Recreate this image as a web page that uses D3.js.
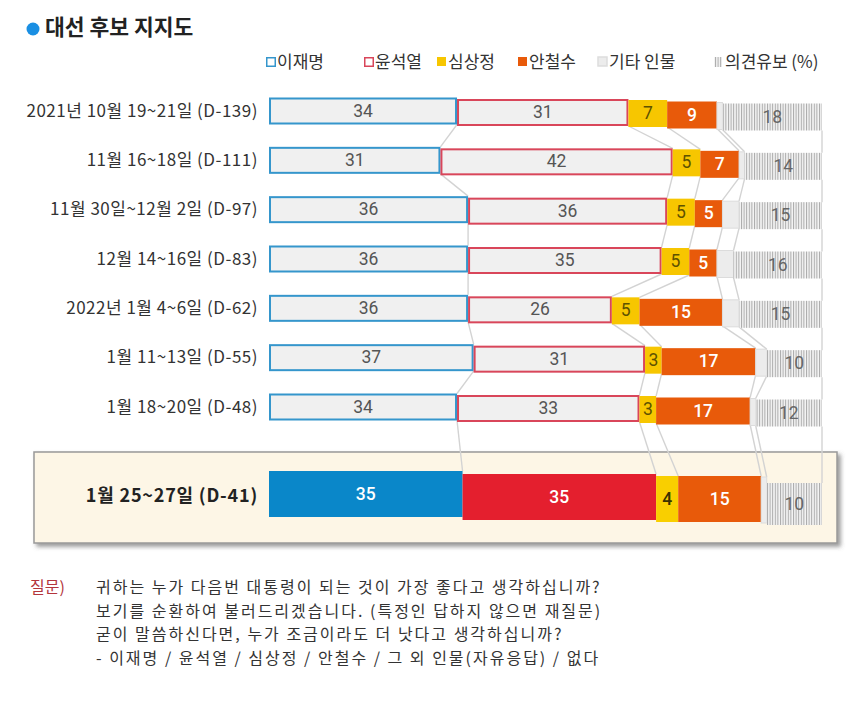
<!DOCTYPE html>
<html>
<head>
<meta charset="utf-8">
<script src="https://cdn.jsdelivr.net/npm/d3@7"></script>
<style>
  html, body { margin: 0; padding: 0; background: #fff; }
  svg { display: block; font-family: "Noto Sans CJK KR", "Noto Sans", sans-serif; }
</style>
</head>
<body>
<svg id="chart" width="863" height="703"></svg>
<script>
// ---- data ----
const surveys = [
  "2021년 10월 19~21일 (D-139)",
  "11월 16~18일 (D-111)",
  "11월 30일~12월 2일 (D-97)",
  "12월 14~16일 (D-83)",
  "2022년 1월 4~6일 (D-62)",
  "1월 11~13일 (D-55)",
  "1월 18~20일 (D-48)",
  "1월 25~27일 (D-41)"
];
const candidates = ["이재명", "윤석열", "심상정", "안철수", "기타 인물", "의견유보"];
const leeJaeMyung = [34, 31, 36, 36, 36, 37, 34, 35];
const yoonSukYeol = [31, 42, 36, 35, 26, 31, 33, 35];
const simSangJung = [7, 5, 5, 5, 5, 3, 3, 4];
const ahnCheolSoo = [9, 7, 5, 5, 15, 17, 17, 15];
const otherPeople = [1, 1, 3, 3, 3, 2, 1, 1];
const undecided = [18, 14, 15, 16, 15, 10, 12, 10];
const titleText = "대선 후보 지지도";
const legendSuffix = " (%)";
const questionLabel = "질문)";
const questionLines = [
  "귀하는 누가 다음번 대통령이 되는 것이 가장 좋다고 생각하십니까?",
  "보기를 순환하여 불러드리겠습니다. (특정인 답하지 않으면 재질문)",
  "굳이 말씀하신다면, 누가 조금이라도 더 낫다고 생각하십니까?",
  "- 이재명 / 윤석열 / 심상정 / 안철수 / 그 외 인물(자유응답) / 없다"
];

// ---- build ----
const series = [leeJaeMyung, yoonSukYeol, simSangJung, ahnCheolSoo, otherPeople, undecided];
const rows = surveys.map((s, i) => ({ label: s, values: series.map(a => a[i]) }));
const stack = d3.stack().keys(d3.range(series.length)).value((d, k) => d.values[k]);
const stacked = stack(rows); // [key][row] -> [y0,y1]

const svg = d3.select("#chart");
const defs = svg.append("defs");
const pat = defs.append("pattern").attr("id", "hatch").attr("patternUnits", "userSpaceOnUse")
  .attr("width", 2.6).attr("height", 10);
pat.append("rect").attr("width", 2.6).attr("height", 10).attr("fill", "#f4f4f4");
pat.append("rect").attr("x", 0).attr("width", 1).attr("height", 10).attr("fill", "#a9a9a9");

const filt = defs.append("filter").attr("id", "shadow").attr("x", "-5%").attr("y", "-10%").attr("width", "115%").attr("height", "130%");
filt.append("feDropShadow").attr("dx", 3).attr("dy", 3).attr("stdDeviation", 2).attr("flood-color", "#555").attr("flood-opacity", 0.6);

const x = d3.scaleLinear().domain([0, 100]).range([269, 822]);
const nUpper = surveys.length - 1;
const yCenter = d3.scaleLinear().domain([0, nUpper - 1]).range([111, 407]);
const lastCenter = 494;
const barH = 27, lastH = 46;
const stagger = [0, 1.5, 2.5, 4, 5, 6];
const lastStagger = [0, 3, 5, 5, 6, 8];

function segY(r, k) {
  if (r < nUpper) return { top: yCenter(r) - barH / 2 + stagger[k], h: barH };
  if (k === 5) return { top: lastCenter - lastH / 2 + lastStagger[k] + 4, h: lastH - 4 };
  return { top: lastCenter - lastH / 2 + lastStagger[k], h: lastH };
}

// Highlight box for last row
svg.append("rect").attr("x", 34).attr("y", 452).attr("width", 803).attr("height", 91)
  .attr("fill", "#fdf6e6").attr("stroke", "#999").attr("stroke-width", 1.5)
  .attr("filter", "url(#shadow)");

// Connectors
const connG = svg.append("g").attr("fill", "none").attr("stroke", "#d3d3d3").attr("stroke-width", 1.4);
for (let r = 0; r < rows.length - 1; r++) {
  for (let k = 0; k < series.length; k++) {
    const a = stacked[k][r][1], b = stacked[k][r + 1][1];
    const ya = segY(r, k), yb = segY(r + 1, k);
    connG.append("line")
      .attr("x1", x(a)).attr("y1", ya.top + ya.h)
      .attr("x2", x(b)).attr("y2", yb.top);
  }
}

const upperFill = ["#f0f0f0", "#f0f0f0", "#f7c600", "#e85a0a", "#ececec", "url(#hatch)"];
const upperStroke = ["#3596cc", "#d9465a", "none", "none", "#dcdcdc", "none"];
const lastFill = ["#0a87c9", "#e41f2e", "#f9cf00", "#e85a0a", "#ececec", "url(#hatch)"];
const textColor = ["#555", "#555", "#5e5200", "#fff", "#555", "#666"];
const lastTextColor = ["#fff", "#fff", "#3a3200", "#fff", "#555", "#666"];

const barsG = svg.append("g");
stacked.forEach((layer, k) => {
  layer.forEach((d, r) => {
    const isLast = r === rows.length - 1;
    const yy = segY(r, k);
    const x0 = x(d[0]), x1 = x(d[1]);
    const isOutline = !isLast && (k === 0 || k === 1);
    barsG.append("rect")
      .attr("x", x0 + (isOutline ? 1 : 0)).attr("y", yy.top + (isOutline ? 1 : 0))
      .attr("width", Math.max(0, x1 - x0 - (isOutline ? 2 : 0)))
      .attr("height", yy.h - (isOutline ? 2 : 0))
      .attr("fill", isLast ? lastFill[k] : upperFill[k])
      .attr("stroke", isLast ? (k === 4 ? "#dcdcdc" : "none") : upperStroke[k])
      .attr("stroke-width", isOutline ? 2 : 1);
    if (k !== 4) {
      barsG.append("text")
        .attr("x", (x0 + x1) / 2).attr("y", yy.top + yy.h / 2 + 1)
        .attr("text-anchor", "middle").attr("dominant-baseline", "middle")
        .attr("font-family", "Roboto, 'Noto Sans', sans-serif")
        .attr("font-size", 17.5)
        .attr("font-weight", (k === 3 || (isLast && k < 4)) ? 500 : 400)
        .attr("fill", isLast ? lastTextColor[k] : textColor[k])
        .text(d.data.values[k]);
    }
  });
});

// Row labels
svg.append("g").selectAll("text").data(rows).join("text")
  .attr("x", 258)
  .attr("y", (d, i) => i < nUpper ? yCenter(i) + 1 : 497)
  .attr("text-anchor", "end").attr("dominant-baseline", "middle")
  .attr("font-size", (d, i) => i < nUpper ? 17 : 18)
  .attr("letter-spacing", (d, i) => i < nUpper ? 0.5 : 0.8)
  .attr("font-weight", (d, i) => i < nUpper ? 400 : 700)
  .attr("fill", (d, i) => i < nUpper ? "#333" : "#222")
  .text(d => d.label);

// Title
svg.append("circle").attr("cx", 33).attr("cy", 29).attr("r", 6.5).attr("fill", "#1a8fe3");
svg.append("text").attr("x", 45).attr("y", 29).attr("dominant-baseline", "middle")
  .attr("font-size", 21.5).attr("font-weight", 700).attr("fill", "#222").text(titleText);

// Legend
const legendX = [266, 364, 437, 518, 598, 714];
const legG = svg.append("g");
candidates.forEach((c, k) => {
  const lx = legendX[k], ly = 62;
  if (k === 5) {
    legG.append("rect").attr("x", lx).attr("y", ly - 5).attr("width", 8).attr("height", 10).attr("fill", "url(#hatch)");
  } else {
    const hollow = k < 2;
    legG.append("rect").attr("x", lx + (hollow ? 0.75 : 0)).attr("y", ly - 5 + (hollow ? 0.75 : 0))
      .attr("width", hollow ? 8.5 : 9).attr("height", hollow ? 8.5 : 9)
      .attr("fill", hollow ? "#fff" : upperFill[k])
      .attr("stroke", hollow ? upperStroke[k] : (k === 4 ? "#ddd" : "none"))
      .attr("stroke-width", 1.5);
  }
  legG.append("text").attr("x", lx + 11).attr("y", ly + 1).attr("dominant-baseline", "middle")
    .attr("font-size", 17).attr("fill", "#333")
    .text(k === 5 ? c + legendSuffix : c);
});

// Question
svg.append("text").attr("x", 30).attr("y", 589).attr("dominant-baseline", "middle")
  .attr("font-size", 16).attr("fill", "#b3353c").text(questionLabel);
svg.append("g").selectAll("text").data(questionLines).join("text")
  .attr("x", 96).attr("y", (d, i) => 589 + i * 23.4).attr("dominant-baseline", "middle")
  .attr("font-size", 16).attr("letter-spacing", 2).attr("fill", "#333").text(d => d);
</script>
</body>
</html>
